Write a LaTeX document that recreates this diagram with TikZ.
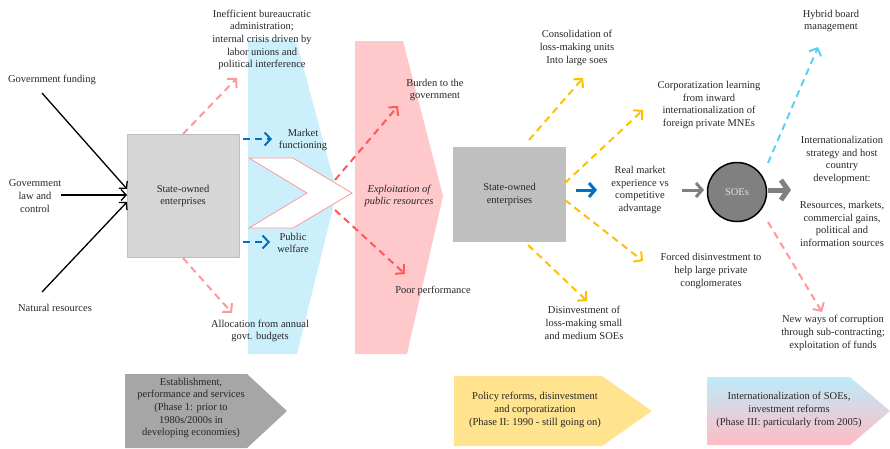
\documentclass[tikz,border=0pt]{standalone}
\usepackage{fontspec}
\setmainfont{Liberation Serif}
\usetikzlibrary{arrows.meta}
\definecolor{pinkd}{HTML}{FF9999}
\definecolor{redd}{HTML}{FF5A5A}
\definecolor{blued}{HTML}{0070C0}
\definecolor{yelld}{HTML}{FFC000}
\definecolor{lblued}{HTML}{5BCFF5}
\definecolor{blueshape}{HTML}{CCEFFC}
\definecolor{pinkshape}{HTML}{FFC8CB}
\definecolor{boxa}{HTML}{D6D6D6}
\definecolor{boxaline}{HTML}{BFBFBF}
\definecolor{boxb}{HTML}{BFBFBF}
\definecolor{phasea}{HTML}{A6A6A6}
\definecolor{phaseb}{HTML}{FFE38F}
\definecolor{gradtop}{HTML}{BDEBFB}
\definecolor{gradbot}{HTML}{FFBCC3}
\definecolor{soecol}{HTML}{808080}
\definecolor{txtcol}{HTML}{262626}
\begin{document}
\begin{tikzpicture}[x=1pt,y=-1pt,
  txt/.style={align=center,font=\fontsize{10.5}{12.7}\selectfont,inner sep=0pt,text=txtcol},
  dasharrow/.style={line width=2pt,dash pattern=on 7pt off 5pt,-{Straight Barb[length=6pt,width=13pt]}},
  pinkarrow/.style={dasharrow,draw=pinkd},
  redarrow/.style={dasharrow,draw=redd},
  bluearrow/.style={dasharrow,draw=blued},
  yellarrow/.style={dasharrow,draw=yelld},
  lbluearrow/.style={dasharrow,draw=lblued},
  inarrow/.style={draw=black,line width=1.3pt,-{Straight Barb[length=5pt,width=11pt]}},
  solidarrow/.style={line width=3pt,-{Straight Barb[length=6pt,width=14pt]}},
]
\useasboundingbox (0,0) rectangle (890,448);

% background shapes
\fill[blueshape] (248,40) -- (296,40) -- (337,192) -- (297,354) -- (248,354) -- cycle;
\draw[fill=white,draw=pinkd,line width=0.8pt] (249,158) -- (293,158) -- (352,193) -- (293,228) -- (249,228) -- (307,193) -- cycle;
\fill[pinkshape] (355,41) -- (403,41) -- (443,196) -- (407,354) -- (355,354) -- cycle;

% phases
\fill[phasea] (125,374) -- (247,374) -- (287,411) -- (247,448) -- (125,448) -- cycle;
\fill[phaseb] (454,376) -- (602,376) -- (652,411) -- (602,446) -- (454,446) -- cycle;
\shade[top color=gradtop,bottom color=gradbot] (707,377) -- (850,377) -- (890,411) -- (850,445) -- (707,445) -- cycle;

\node[txt] (ph1) at (191,408) {Establishment,\\performance and services\\(Phase 1: prior to\\1980s/2000s in\\developing economies)};
\node[txt] (ph2) at (535,410) {Policy reforms, disinvestment\\and corporatization\\(Phase II: 1990 - still going on)};
\node[txt] (ph3) at (789,410) {Internationalization of SOEs,\\investment reforms\\(Phase III: particularly from 2005)};

% boxes
\node[draw=boxaline,fill=boxa,line width=1pt,minimum width=112,minimum height=123,txt] (soea) at (183,196) {State-owned\\enterprises};
\node[fill=boxb,minimum width=113,minimum height=95,txt] (soeb) at (509.5,194.5) {State-owned\\enterprises};
\node[circle,draw=black,line width=1.5pt,fill=soecol,minimum size=59,txt,text=white!88!black] (soec) at (737,192) {SOEs};

% inputs
\node[txt] (gf) at (52,80) {Government funding};
\node[txt] (law) at (35,196) {Government\\law and\\control};
\node[txt] (nat) at (55,308) {Natural resources};
\coordinate (gfs) at (42,93);
\coordinate (gfe) at (127,189);
\coordinate (laws) at (61,195);
\coordinate (lawe) at (127,195);
\coordinate (nats) at (42,292);
\coordinate (nate) at (127,202);
\draw[inarrow] (gfs) -- (gfe);
\draw[inarrow] (laws) -- (lawe);
\draw[inarrow] (nats) -- (nate);

% phase 1 outputs
\node[txt] (ineff) at (262,40) {Inefficient bureaucratic\\administration;\\internal crisis driven by\\labor unions and\\political interference};
\node[txt] (market) at (303,140) {Market\\functioning};
\node[txt] (welfare) at (293,243) {Public\\welfare};
\node[txt] (alloc) at (260,331) {Allocation from annual\\govt. budgets};
\coordinate (ineffe) at (237,78);
\coordinate (alloce) at (232,313);
\coordinate (mks) at (243,139);
\coordinate (mke) at (272,139);
\coordinate (pws) at (243,242);
\coordinate (pwe) at (270,242);
\draw[pinkarrow] (soea.north) -- (ineffe);
\draw[pinkarrow] (soea.south) -- (alloce);
\draw[bluearrow] (mks) -- (mke);
\draw[bluearrow] (pws) -- (pwe);

\node[txt,font=\fontsize{10.5}{12.7}\selectfont\itshape] (exploit) at (399,196) {Exploitation of\\public resources};
\node[txt] (burden) at (435,90) {Burden to the\\government};
\node[txt] (poor) at (433,291) {Poor performance};
\coordinate (bs) at (335,180);
\coordinate (be) at (398,106);
\coordinate (ps) at (335,210);
\coordinate (pe) at (405,274);
\draw[redarrow] (bs) -- (be);
\draw[redarrow] (ps) -- (pe);

% phase 2 outputs
\node[txt] (consol) at (577,48) {Consolidation of\\loss-making units\\Into large soes};
\node[txt] (corp) at (709,105) {Corporatization learning\\from inward\\internationalization of\\foreign private MNEs};
\node[txt] (realm) at (640,190) {Real market\\experience vs\\competitive\\advantage};
\node[txt] (forced) at (711,271) {Forced disinvestment to\\help large private\\conglomerates};
\node[txt] (disinv) at (584,323) {Disinvestment of\\loss-making small\\and medium SOEs};
\coordinate (c1s) at (529,140);
\coordinate (c1e) at (583,78);
\coordinate (c2s) at (565,183);
\coordinate (c2e) at (643,110);
\coordinate (c3s) at (565,200);
\coordinate (c3e) at (643,261);
\coordinate (c4s) at (528,245);
\coordinate (c4e) at (587,301);
\draw[yellarrow] (c1s) -- (c1e);
\draw[yellarrow] (c2s) -- (c2e);
\draw[yellarrow] (c3s) -- (c3e);
\draw[yellarrow] (c4s) -- (c4e);
\coordinate (rms) at (576,190);
\coordinate (rme) at (597,190);
\draw[solidarrow,draw=blued] (rms) -- (rme);
\coordinate (gs) at (682,190);
\coordinate (ge) at (704,190);
\draw[solidarrow,draw=soecol] (gs) -- (ge);

% phase 3 outputs
\node[txt] (hybrid) at (831,21) {Hybrid board\\management};
\node[txt] (intl) at (842,160) {Internationalization\\strategy and host\\country\\development:};
\node[txt] (res) at (842,224) {Resources, markets,\\commercial gains,\\political and\\information sources};
\node[txt] (newways) at (833,333) {New ways of corruption\\through sub-contracting;\\exploitation of funds};
\coordinate (bgs) at (768,190);
\coordinate (bge) at (791,190);
\draw[draw=soecol,line width=5pt,-{Straight Barb[length=7pt,width=20pt]}] (bgs) -- (bge);
\coordinate (hs) at (768,163);
\coordinate (he) at (818,47);
\draw[lbluearrow] (hs) -- (he);
\coordinate (ns) at (768,222);
\coordinate (ne) at (822,312);
\draw[pinkarrow] (ns) -- (ne);
\end{tikzpicture}
\end{document}
